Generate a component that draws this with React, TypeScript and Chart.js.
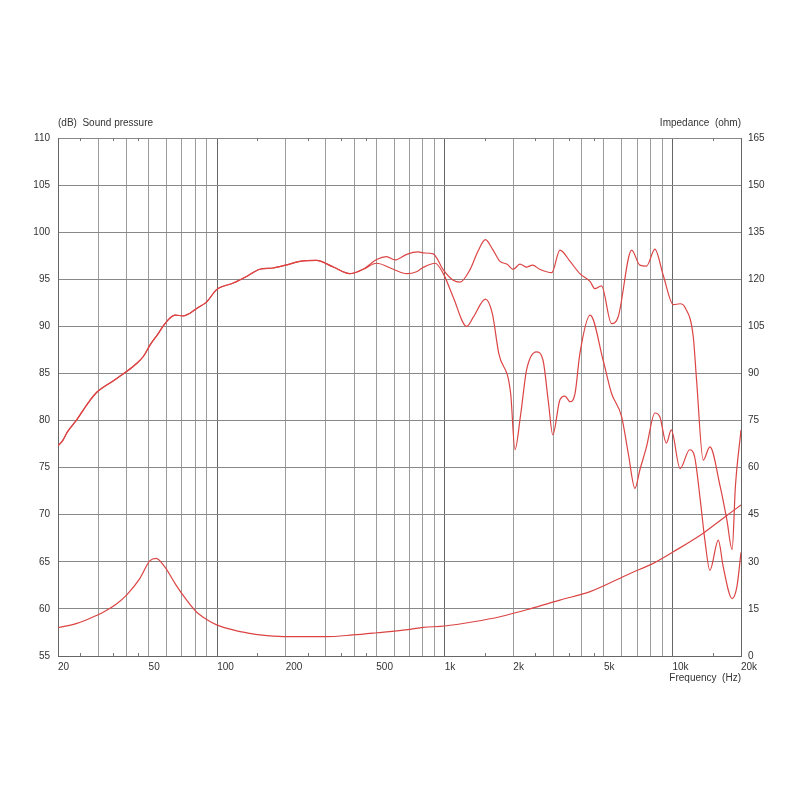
import React, { useEffect, useRef } from "react";
import { Chart, registerables } from "chart.js";

Chart.register(...registerables);

// On-axis sound pressure (Hz, dB)
const onAxisFreq = [20, 21, 22, 24.2, 27, 29.6, 34.4, 40, 44, 47.4, 50.7, 55, 59, 65.3, 71, 76, 81.3, 90, 99.5, 117.8, 134.8, 154, 176, 200, 231, 273, 324, 383, 438, 502, 555, 604, 680, 764, 803, 889, 985, 1089, 1166, 1289, 1400, 1508, 1620, 1747, 1880, 1996, 2138, 2280, 2430, 2610, 2950, 3204, 3550, 3920, 4350, 4561, 4880, 5397, 5773, 6617, 7190, 7690, 8375, 9100, 10090, 10800, 11360, 12340, 12760, 13650, 14600, 16200, 17350, 18280, 18900, 20000];
const onAxisDb = [77.3, 77.9, 78.8, 80.1, 81.8, 83.0, 84.1, 85.2, 86.0, 86.8, 88.0, 89.2, 90.3, 91.2, 91.1, 91.4, 91.9, 92.6, 93.9, 94.6, 95.3, 96.06, 96.2, 96.5, 96.9, 97.0, 96.3, 95.6, 96.06, 97.1, 97.4, 97.05, 97.65, 97.9, 97.8, 97.7, 96.0, 94.9, 94.7, 96.0, 98.0, 99.2, 98.2, 96.9, 96.6, 96.06, 96.6, 96.3, 96.5, 96.06, 95.7, 98.1, 96.9, 95.6, 94.75, 94.0, 94.3, 90.3, 91.0, 98.1, 96.5, 96.4, 98.2, 95.45, 92.3, 92.4, 92.0, 88.9, 84.3, 75.8, 77.2, 73.0, 69.4, 66.3, 73.0, 79.0];

// Off-axis sound pressure (Hz, dB)
const offAxisFreq = [20, 21, 22, 24.2, 27, 29.6, 34.4, 40, 44, 47.4, 50.7, 55, 59, 65.3, 71, 76, 81.3, 90, 99.5, 117.8, 134.8, 154, 176, 200, 231, 273, 324, 383, 438, 502, 594, 680, 751, 803, 907, 985, 1089, 1247, 1336, 1508, 1616, 1727, 1946, 2033, 2150, 2288, 2526, 2700, 2850, 2980, 3204, 3370, 3550, 3735, 3920, 4350, 4960, 5397, 5982, 6397, 6846, 7190, 7690, 8375, 8800, 9400, 9880, 10800, 11900, 12500, 13200, 13880, 14600, 15900, 16700, 18280, 19200, 20000];
const offAxisDb = [77.3, 77.9, 78.8, 80.1, 81.8, 83.0, 84.1, 85.2, 86.0, 86.8, 88.0, 89.2, 90.3, 91.2, 91.1, 91.4, 91.9, 92.6, 93.9, 94.6, 95.3, 96.06, 96.2, 96.5, 96.9, 97.0, 96.3, 95.6, 96.06, 96.7, 96.06, 95.6, 95.8, 96.25, 96.7, 95.6, 93.1, 90.0, 91.0, 92.9, 91.4, 87.1, 82.9, 76.9, 80.5, 85.4, 87.3, 86.4, 82.0, 78.5, 82.2, 82.6, 82.0, 82.9, 87.1, 91.2, 86.4, 82.9, 80.4, 76.5, 72.8, 74.75, 77.2, 80.8, 80.4, 77.6, 79.0, 74.9, 76.9, 76.2, 71.9, 67.3, 64.1, 67.3, 64.5, 61.1, 62.4, 66.0];

// Impedance (Hz, ohm)
const impFreq = [20, 24.2, 28, 32, 36, 40, 45.8, 50.6, 54, 58.8, 66, 73.5, 81, 90, 99.5, 122, 139, 154, 195, 300, 395, 502, 704, 803, 1000, 1336, 1747, 2366, 3204, 4350, 6520, 8230, 10090, 13650, 16700, 20000];
const impOhm = [9.0, 10.4, 12.2, 14.2, 16.5, 19.4, 24.75, 30.3, 31.1, 28.45, 22.6, 17.8, 14.1, 11.6, 9.9, 8.0, 7.2, 6.7, 6.15, 6.15, 6.7, 7.4, 8.5, 9.1, 9.55, 10.9, 12.5, 15.0, 17.8, 20.5, 26.3, 29.5, 33.2, 39.1, 43.9, 48.1];

// Axis ticks
const gridFreqs = [20, 30, 40, 50, 60, 70, 80, 90, 100, 200, 300, 400, 500, 600, 700, 800, 900, 1000, 2000, 3000, 4000, 5000, 6000, 7000, 8000, 9000, 10000, 20000];
const decadeFreqs = [100, 1000, 10000];
const freqLabelValues = [20, 50, 100, 200, 500, 1000, 2000, 5000, 10000, 20000];
const freqLabelTexts = ["20", "50", "100", "200", "500", "1k", "2k", "5k", "10k", "20k"];
const minorFreqs = [25, 35, 45, 150, 250, 350, 450, 1500, 2500, 3500, 4500, 15000];

const RED = "rgb(220,68,68)";
const FONT = "'Liberation Sans', Arial, sans-serif";
const TEXT = "#333";

const toPts = (xs: number[], ys: number[]) => xs.map((x, i) => ({ x, y: ys[i] }));

const decorPlugin = {
  id: "decor",
  afterDraw(chart: any) {
    const { ctx, chartArea, scales } = chart;
    const xs = scales.x;
    ctx.save();
    ctx.strokeStyle = "#777";
    ctx.lineWidth = 1;
    minorFreqs.forEach((f) => {
      const px = Math.round(xs.getPixelForValue(f)) + 0.5;
      ctx.beginPath();
      ctx.moveTo(px, chartArea.bottom);
      ctx.lineTo(px, chartArea.bottom - 3);
      ctx.moveTo(px, chartArea.top);
      ctx.lineTo(px, chartArea.top + 3);
      ctx.stroke();
    });
    ctx.fillStyle = TEXT;
    ctx.font = `10px ${FONT}`;
    ctx.textBaseline = "middle";
    ctx.textAlign = "left";
    ctx.fillText("(dB)  Sound pressure", chartArea.left, chartArea.top - 15);
    ctx.textAlign = "right";
    ctx.fillText("Impedance  (ohm)", chartArea.right, chartArea.top - 15);
    ctx.fillText("Frequency  (Hz)", chartArea.right, chartArea.bottom + 22);
    ctx.restore();
  },
};

export default function App() {
  const ref = useRef<HTMLCanvasElement | null>(null);
  useEffect(() => {
    if (!ref.current) return;
    const ds = (label: string, data: any[], axis: string) => ({
      label,
      data,
      yAxisID: axis,
      borderColor: RED,
      borderWidth: 1.2,
      pointRadius: 0,
      fill: false,
      cubicInterpolationMode: "monotone" as const,
    });
    const chart = new Chart(ref.current, {
      type: "line",
      data: {
        datasets: [
          ds("On axis", toPts(onAxisFreq, onAxisDb), "y"),
          ds("Off axis", toPts(offAxisFreq, offAxisDb), "y"),
          ds("Impedance", toPts(impFreq, impOhm), "y2"),
        ],
      },
      options: {
        responsive: false,
        animation: false,
        layout: { padding: { top: 138, left: 0, right: 0, bottom: 0 } },
        plugins: { legend: { display: false }, tooltip: { enabled: false } },
        scales: {
          x: {
            type: "logarithmic",
            min: 20,
            max: 20000,
            afterBuildTicks: (s: any) => {
              s.ticks = gridFreqs.map((v) => ({ value: v }));
            },
            afterFit: (s: any) => {
              s.height = 144;
            },
            ticks: {
              autoSkip: false,
              maxRotation: 0,
              minRotation: 0,
              align: "start",
              padding: 5,
              color: TEXT,
              font: { family: FONT, size: 10 },
              callback: (v: any) => {
                const i = freqLabelValues.indexOf(Number(v));
                return i >= 0 ? freqLabelTexts[i] : "";
              },
            },
            grid: {
              drawTicks: false,
              color: (c: any) =>
                c.tick && decadeFreqs.includes(c.tick.value) ? "#666" : "#9c9c9c",
              lineWidth: 1,
            },
            border: { display: true, color: "#666", width: 1 },
          },
          y: {
            type: "linear",
            position: "left",
            min: 55,
            max: 110,
            afterFit: (s: any) => {
              s.width = 58;
            },
            ticks: {
              stepSize: 5,
              padding: 8,
              color: TEXT,
              font: { family: FONT, size: 10 },
            },
            grid: { drawTicks: false, color: "#888", lineWidth: 1 },
            border: { display: true, color: "#666", width: 1 },
          },
          y2: {
            type: "linear",
            position: "right",
            min: 0,
            max: 165,
            afterFit: (s: any) => {
              s.width = 59;
            },
            ticks: {
              stepSize: 15,
              padding: 7,
              color: TEXT,
              font: { family: FONT, size: 10 },
            },
            grid: { display: false, drawTicks: false },
            border: { display: true, color: "#666", width: 1 },
          },
        },
      },
      plugins: [decorPlugin],
    });
    return () => chart.destroy();
  }, []);
  return (
    <div style={{ position: "fixed", left: 0, top: 0, width: 800, height: 800, background: "#fff" }}>
      <canvas ref={ref} width={800} height={800} style={{ display: "block" }} />
    </div>
  );
}
